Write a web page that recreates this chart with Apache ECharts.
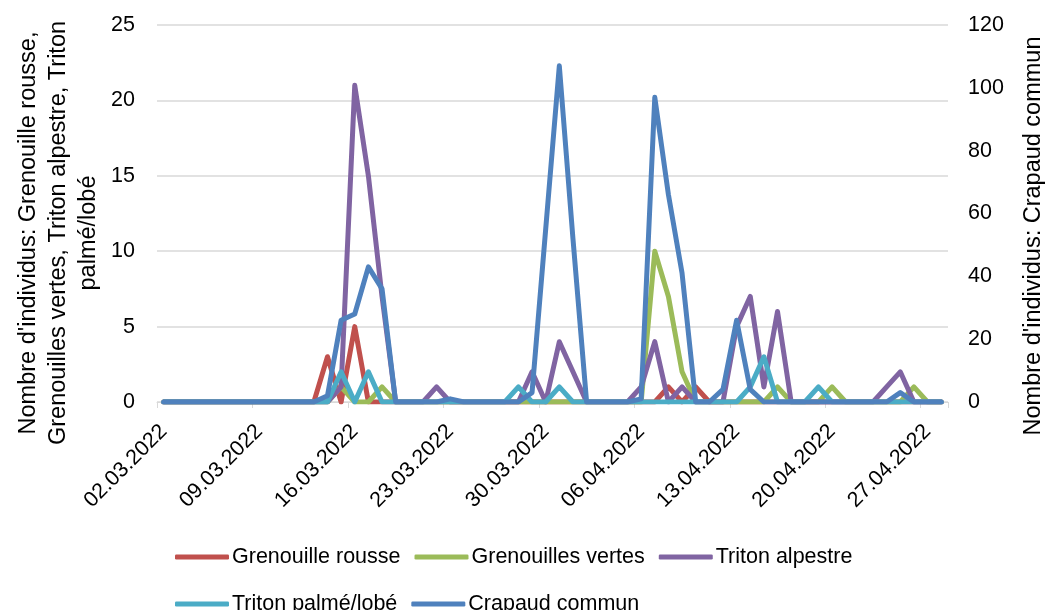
<!DOCTYPE html>
<html>
<head>
<meta charset="utf-8">
<script src="https://cdn.jsdelivr.net/npm/echarts@6/dist/echarts.min.js"></script>
<style>
  html, body { margin: 0; padding: 0; background: #ffffff; }
  #chart { width: 1046px; height: 610px; }
</style>
</head>
<body>
<div id="chart"></div>
<script>
// Daily survey dates, 02.03.2022 – 28.04.2022
const dates = [
  '02.03.2022','03.03.2022','04.03.2022','05.03.2022','06.03.2022','07.03.2022','08.03.2022',
  '09.03.2022','10.03.2022','11.03.2022','12.03.2022','13.03.2022','14.03.2022','15.03.2022',
  '16.03.2022','17.03.2022','18.03.2022','19.03.2022','20.03.2022','21.03.2022','22.03.2022',
  '23.03.2022','24.03.2022','25.03.2022','26.03.2022','27.03.2022','28.03.2022','29.03.2022',
  '30.03.2022','31.03.2022','01.04.2022','02.04.2022','03.04.2022','04.04.2022','05.04.2022',
  '06.04.2022','07.04.2022','08.04.2022','09.04.2022','10.04.2022','11.04.2022','12.04.2022',
  '13.04.2022','14.04.2022','15.04.2022','16.04.2022','17.04.2022','18.04.2022','19.04.2022',
  '20.04.2022','21.04.2022','22.04.2022','23.04.2022','24.04.2022','25.04.2022','26.04.2022',
  '27.04.2022','28.04.2022'
];

// Counts per day (one row per week)
const grenouilleRousse = [
  0,0,0,0,0,0,0,
  0,0,0,0,0,3,0,
  5,0,0,0,0,0,0,
  0,0,0,0,0,0,0,
  0,0,0,0,0,0,0,
  0,0,1,0,1,0,0,
  0,0,0,0,0,0,0,
  0,0,0,0,0,0,0,
  0,0
];
const grenouillesVertes = [
  0,0,0,0,0,0,0,
  0,0,0,0,0,0,1,
  0,0,1,0,0,0,0,
  0,0,0,0,0,0,0,
  0,0,0,0,0,0,0,
  0,10,7,2,0,0,0,
  0,0,0,1,0,0,0,
  1,0,0,0,0,0,1,
  0,0
];
const tritonAlpestre = [
  0,0,0,0,0,0,0,
  0,0,0,0,0,0,1,
  21,15,7,0,0,0,1,
  0,0,0,0,0,0,2,
  0,4,2,0,0,0,0,
  1,4,0,1,0,0,0,
  5,7,1,6,0,0,0,
  0,0,0,0,1,2,0,
  0,0
];
const tritonPalme = [
  0,0,0,0,0,0,0,
  0,0,0,0,0,0,2,
  0,2,0,0,0,0,0,
  0,0,0,0,0,1,0,
  0,1,0,0,0,0,0,
  0,0,0,0,0,0,0,
  0,1,3,0,0,0,1,
  0,0,0,0,0,0,0,
  0,0
];
const crapaudCommun = [
  0,0,0,0,0,0,0,
  0,0,0,0,0,2,26,
  28,43,36,0,0,0,0,
  1,0,0,0,0,0,3,
  55,107,52,0,0,0,0,
  1,97,66,41,0,0,4,
  26,4,0,0,0,0,0,
  0,0,0,0,0,3,0,
  0,0
];

const seriesNames = ['Grenouille rousse', 'Grenouilles vertes', 'Triton alpestre', 'Triton palmé/lobé', 'Crapaud commun'];
const seriesColors = ['#C0504D', '#9BBB59', '#8064A2', '#4BACC6', '#4F81BD'];
const seriesValues = [grenouilleRousse, grenouillesVertes, tritonAlpestre, tritonPalme, crapaudCommun];
const seriesAxis = [0, 0, 0, 0, 1];

const leftTitle = "Nombre d'individus: Grenouille rousse,\nGrenouilles vertes, Triton alpestre, Triton\npalmé/lobé";
const rightTitle = "Nombre d'individus: Crapaud commun";

const FONT = '"Liberation Sans", Arial, sans-serif';
const FS = 21.5;
const TITLE_FS = 23.5;

const chart = echarts.init(document.getElementById('chart'), null, { renderer: 'canvas' });

const legendCommon = {
  orient: 'horizontal',
  icon: 'roundRect',
  itemWidth: 54,
  itemHeight: 5,
  itemGap: 14,
  textStyle: { fontFamily: FONT, fontSize: FS, color: '#000', padding: [0, 0, 0, -2] }
};

chart.setOption({
  animation: false,
  backgroundColor: '#ffffff',
  grid: { left: 157, right: 98, top: 25, bottom: 208, containLabel: false },
  legend: [
    Object.assign({ left: 170, top: 541, data: seriesNames.slice(0, 3) }, legendCommon),
    Object.assign({ left: 170, top: 588, data: seriesNames.slice(3) }, legendCommon)
  ],
  xAxis: {
    type: 'category',
    data: dates,
    boundaryGap: true,
    axisLine: { show: true, lineStyle: { color: '#D9D9D9', width: 1 } },
    axisTick: { show: true, interval: 6, length: 6, lineStyle: { color: '#D9D9D9' } },
    axisLabel: {
      interval: 6, rotate: 45, margin: 26,
      fontFamily: FONT, fontSize: FS, color: '#000'
    },
    splitLine: { show: false }
  },
  yAxis: [
    {
      type: 'value', min: 0, max: 25, interval: 5,
      axisLine: { show: false }, axisTick: { show: false },
      axisLabel: { margin: 22, fontFamily: FONT, fontSize: FS, color: '#000' },
      splitLine: { show: true, lineStyle: { color: '#D9D9D9', width: 1.5 } }
    },
    {
      type: 'value', min: 0, max: 120, interval: 20, position: 'right',
      axisLine: { show: false }, axisTick: { show: false },
      axisLabel: { margin: 20, fontFamily: FONT, fontSize: FS, color: '#000' },
      splitLine: { show: false }
    }
  ],
  graphic: [
    {
      type: 'text', x: 59, y: 233, rotation: Math.PI / 2,
      style: {
        text: leftTitle, fontFamily: FONT, fontSize: TITLE_FS, lineHeight: 30,
        fill: '#000', align: 'center', verticalAlign: 'middle'
      }
    },
    {
      type: 'text', x: 1034, y: 236, rotation: Math.PI / 2,
      style: {
        text: rightTitle, fontFamily: FONT, fontSize: TITLE_FS,
        fill: '#000', align: 'center', verticalAlign: 'middle'
      }
    }
  ],
  series: seriesNames.map((name, k) => ({
    name: name,
    type: 'line',
    yAxisIndex: seriesAxis[k],
    data: seriesValues[k],
    symbol: 'none',
    showSymbol: false,
    color: seriesColors[k],
    lineStyle: { width: 5, color: seriesColors[k], cap: 'round', join: 'round' },
    z: 2 + k
  }))
});
</script>
</body>
</html>
